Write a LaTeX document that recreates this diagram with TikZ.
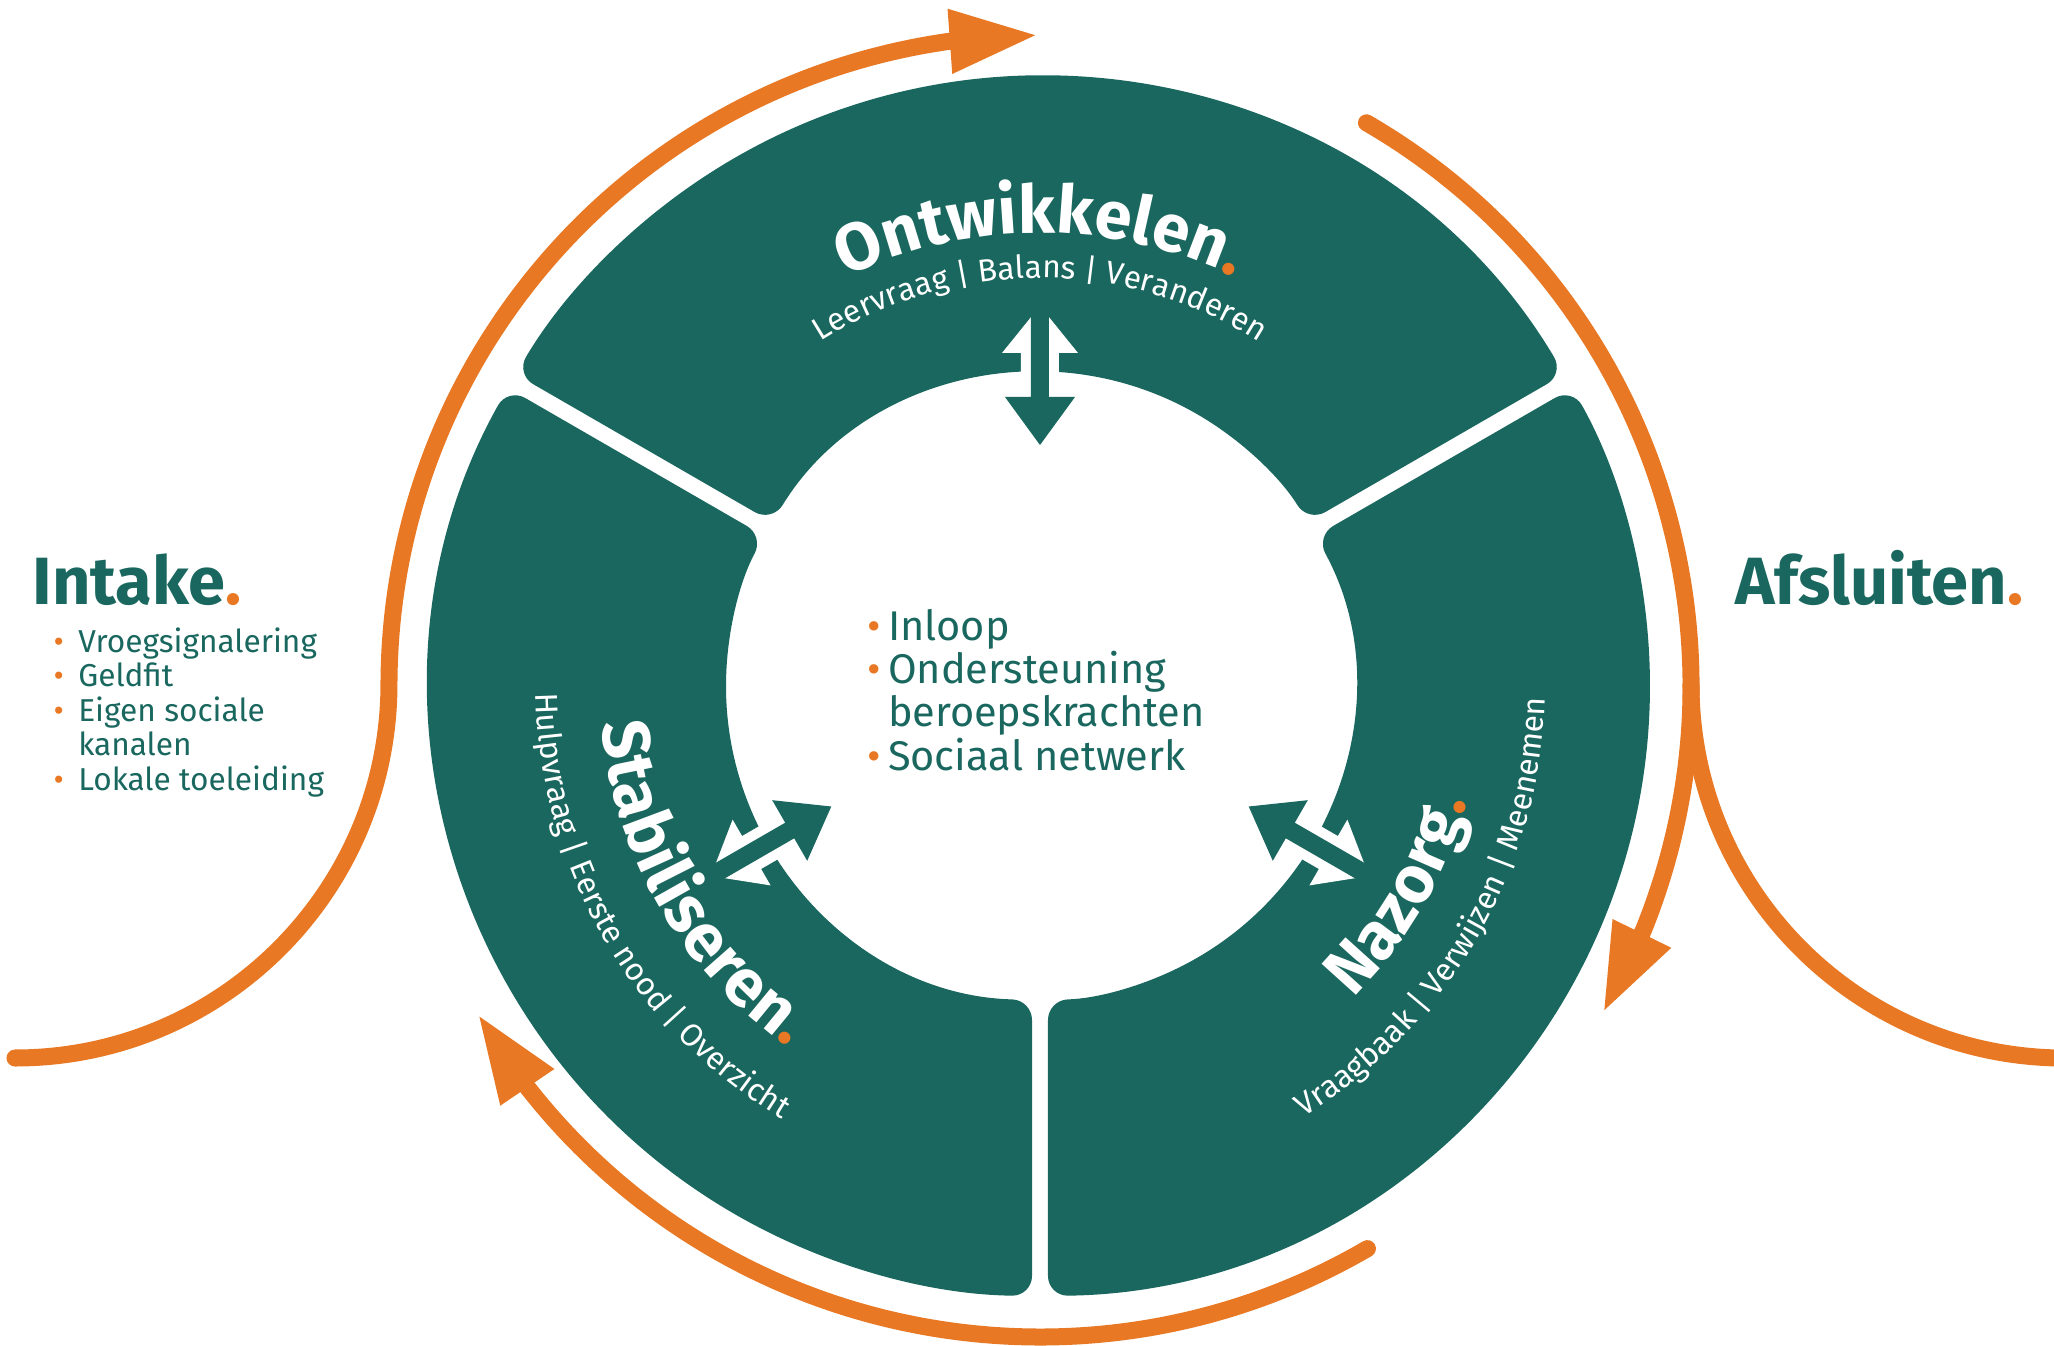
\documentclass[tikz,border=0pt]{standalone}
\usepackage{fontspec}
\setmainfont{Fira Sans}
\usetikzlibrary{arrows.meta,decorations.text}
\definecolor{ringgreen}{RGB}{25,103,94}
\definecolor{accent}{RGB}{232,120,35}
\newcommand{\dotb}[1]{\makebox[#1][l]{\textcolor{accent}{\textbullet}}}
\newcommand{\ttl}{\color{white}\bfseries\fontsize{19}{21}\selectfont}
\newcommand{\sub}{\color{white}\fontsize{9}{10}\selectfont}
\newcommand{\ttldot}{\color{accent}\bfseries\fontsize{19}{21}\selectfont}

\tikzset{
  segment/.style={fill=ringgreen, rounded corners=0.2cm},
  flow/.style={draw=accent, line width=0.17cm, line cap=round},
  flowtip/.style={-{Triangle[length=0.88cm,width=0.6cm]}},
  heading/.style={text=ringgreen, font=\bfseries\fontsize{19}{21}\selectfont, inner sep=0pt},
  itemlist/.style={text=ringgreen, inner sep=0pt},
  ringtext/.style={decorate, decoration={text along path, text format delimiters={[}{]}, text align=center, text={#1}}}
}

\begin{document}
\begin{tikzpicture}[x=0.01cm,y=0.01cm]
  \useasboundingbox (-1040,-659) rectangle (1014,686);

  \foreach \a in {30,150,270}
    \fill[segment] ({\a+0.75}:610) arc[start angle={\a+0.75}, end angle={\a+119.25}, radius=610]
      -- ({\a+118.54}:314) arc[start angle={\a+118.54}, end angle={\a+1.46}, radius=314] -- cycle;

  \foreach \a in {0,120,240}{
    \fill[white, rotate=\a] (-19,300) -- (-19,333) -- (-38,333) -- (0,380) -- (38,333) -- (19,333) -- (19,300) -- cycle;
    \fill[ringgreen, rotate=\a] (-9,400) -- (-9,289) -- (-35,289) -- (0,241) -- (35,289) -- (9,289) -- (9,400) -- cycle;
  }

  \path[ringtext={[\ttl]Ontwikkelen[\ttldot].}] (150:453) arc[start angle=150, end angle=30, radius=453];
  \path[ringtext={[\sub]Leervraag | Balans | Veranderen}] (150:408) arc[start angle=150, end angle=30, radius=408];
  \path[ringtext={[\ttl]Stabiliseren[\ttldot].}] (150:440) arc[start angle=150, end angle=270, radius=440];
  \path[ringtext={[\sub]Hulpvraag | Eerste nood | Overzicht}] (150:504) arc[start angle=150, end angle=270, radius=504];
  \path[ringtext={[\ttl]Nazorg[\ttldot].}] (-90:442) arc[start angle=-90, end angle=30, radius=442];
  \path[ringtext={[\sub]Vraagbaak | Verwijzen | Meenemen}] (-90:505) arc[start angle=-90, end angle=30, radius=505];

  \draw[flow, flowtip] (-1025,-372) arc[start angle=270, end angle=359.89, radius=374]
    arc[start angle=179.89, end angle=98.1, radius=651] -- (90.2:651);
  \draw[flow, flowtip] (59.9:651) arc[start angle=59.9, end angle=-22.1, radius=651] -- (-30.1:651);
  \draw[flow] (0.11:651) arc[start angle=180.11, end angle=270, radius=374];
  \draw[flow, flowtip] (-59.8:651) arc[start angle=-59.8, end angle=-142, radius=651] -- (-149.7:651);

  \node[heading, anchor=base west] (intake) at (-1008,81) {Intake\textcolor{accent}{.}};
  \node[itemlist, anchor=base west, font=\fontsize{9}{9.7}\selectfont] (intakeitems) at (-987,34)
    {\begin{tabular}[t]{@{}l@{}l@{}}
      \dotb{7pt} & Vroegsignalering\\
      \dotb{7pt} & Geldfit\\
      \dotb{7pt} & Eigen sociale\\
                 & kanalen\\
      \dotb{7pt} & Lokale toeleiding
    \end{tabular}};
  \node[heading, anchor=base east] (afsluiten) at (984,81) {Afsluiten\textcolor{accent}{.}};
  \node[itemlist, anchor=base west, font=\fontsize{11.8}{10.8}\selectfont] (hub) at (-173,46)
    {\begin{tabular}[t]{@{}l@{}l@{}}
      \dotb{5.8pt} & Inloop\\
      \dotb{5.8pt} & Ondersteuning\\
                   & beroepskrachten\\
      \dotb{5.8pt} & Sociaal netwerk
    \end{tabular}};
\end{tikzpicture}
\end{document}
